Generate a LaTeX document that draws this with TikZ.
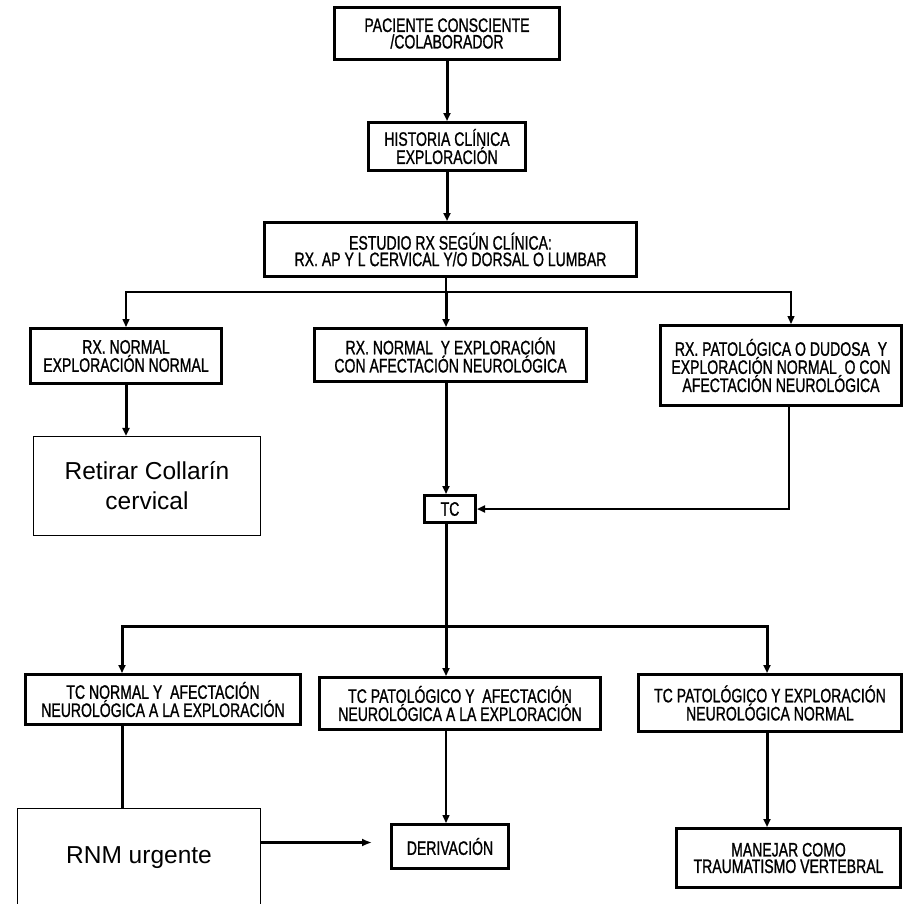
\documentclass[tikz,border=0pt]{standalone}
\usepackage{fontspec}
\setmainfont{Liberation Sans}
\newfontfamily\condfont[FakeStretch=0.72,FakeBold=1]{Liberation Sans}
\usetikzlibrary{
    arrows.meta,
    positioning,
    calc
}
\tikzset{
    % Boxes
    box/.style={draw,line width=3pt,inner sep=0pt,align=center,
        font=\condfont\fontsize{19.5}{16.5}\selectfont},
    plain box/.style={draw,line width=1.3pt,inner sep=0pt,align=center,
        font=\fontsize{24.5}{30}\selectfont},
    %
    % Lines
    heavy/.style={line width=3pt},
    medium/.style={line width=2.2pt},
    light/.style={line width=1.4pt},
    %
    % Arrows
    arrow tip/.tip={Triangle[length=8pt,width=7pt]},
    arr/.style={-{arrow tip}},
    big arr/.style={-{Latex[length=10pt,width=8pt]}}
}

\begin{document}
\begin{tikzpicture}[x=1pt,y=-1pt]
        \useasboundingbox (0,0) rectangle (905,903);
        
        % upper part
        \node[box,minimum width=225pt,minimum height=52pt] (paciente) at (447,33.5) {PACIENTE CONSCIENTE\\/COLABORADOR};
        \node[box,minimum width=157pt,minimum height=48pt] (historia) at (447,146.5) {HISTORIA CLÍNICA\\EXPLORACIÓN};
        \node[box,minimum width=372pt,minimum height=54pt] (estudio) at (450.5,249.5) {ESTUDIO RX SEGÚN CLÍNICA:\\RX. AP Y L CERVICAL Y/O DORSAL O LUMBAR};
        
        \node[box,minimum width=191pt,minimum height=55pt] (rxnormal) at (126,356) {RX. NORMAL\\EXPLORACIÓN NORMAL};
        \node[box,minimum width=272pt,minimum height=53pt] (rxafect) at (450.5,355) {RX. NORMAL\ \ Y EXPLORACIÓN\\CON AFECTACIÓN NEUROLÓGICA};
        \node[box,minimum width=241pt,minimum height=80pt] (rxpatol) at (781,365.5) {RX. PATOLÓGICA O DUDOSA\ \ Y\\EXPLORACIÓN NORMAL\ \ O CON\\AFECTACIÓN NEUROLÓGICA};
        
        \node[plain box,minimum width=227pt,minimum height=99pt] (retirar) at (147,486) {Retirar Collarín\\cervical};
        \node[box,minimum width=51pt,minimum height=27pt] (tc) at (450,509) {TC};
        
        % lower part
        \node[box,minimum width=275pt,minimum height=50pt] (tcnormal) at (163,699.5) {TC NORMAL Y\ \ AFECTACIÓN\\NEUROLÓGICA A LA EXPLORACIÓN};
        \node[box,minimum width=281pt,minimum height=52pt] (tcpatneu) at (460,703.5) {TC PATOLÓGICO Y\ \ AFECTACIÓN\\NEUROLÓGICA A LA EXPLORACIÓN};
        \node[box,minimum width=263pt,minimum height=57pt] (tcpatexp) at (770,703) {TC PATOLÓGICO Y EXPLORACIÓN\\NEUROLÓGICA NORMAL};
        
        \node[plain box,minimum width=243pt,minimum height=99pt] (rnm) at (139,858) {RNM urgente};
        \node[box,minimum width=117pt,minimum height=44pt] (der) at (450,846.5) {DERIVACIÓN};
        \node[box,minimum width=224pt,minimum height=59pt] (manejar) at (788.5,858) {MANEJAR COMO\\TRAUMATISMO VERTEBRAL};
        
        % first split
        \coordinate (split1) at (446,292);
        \draw[heavy,arr] (paciente) -- (historia);
        \draw[heavy,arr] (historia) -- (historia |- estudio.north);
        \draw[light] (estudio.south -| split1) -- (split1);
        \draw[light,arr] (split1) -| (rxnormal.north);
        \draw[light,arr] (split1) -| ([xshift=10pt]rxpatol.north);
        \draw[heavy,arr] (split1) -- (split1 |- rxafect.north);
        
        \draw[heavy,arr] (rxnormal) -- (rxnormal |- retirar.north);
        \draw[heavy,arr] (rxafect.south -| split1) -- (split1 |- tc.north);
        \draw[medium,arr] ([xshift=8pt]rxpatol.south) |- (tc.east);
        
        % second split
        \coordinate (split2) at (446,626);
        \draw[heavy] (tc.south -| split2) -- (split2);
        \draw[heavy,arr] (split2) -| ([xshift=-41pt]tcnormal.north);
        \draw[heavy,arr] (split2) -| ([xshift=-3pt]tcpatexp.north);
        \draw[heavy,arr] (split2) -- (split2 |- tcpatneu.north);
        
        \draw[heavy] ([xshift=-41pt]tcnormal.south) -- ([xshift=-41pt]tcnormal.south |- rnm.north);
        \draw[light,arr] (tcpatneu.south -| split2) -- (split2 |- der.north);
        \draw[heavy,arr] ([xshift=-3pt]tcpatexp.south) -- ([xshift=-3pt]tcpatexp.south |- manejar.north);
        \draw[medium,big arr] ($(rnm.east |- der.west)+(0,-4)$) -- ($(der.west)+(-18,-4)$);
    \end{tikzpicture}
\end{document}
